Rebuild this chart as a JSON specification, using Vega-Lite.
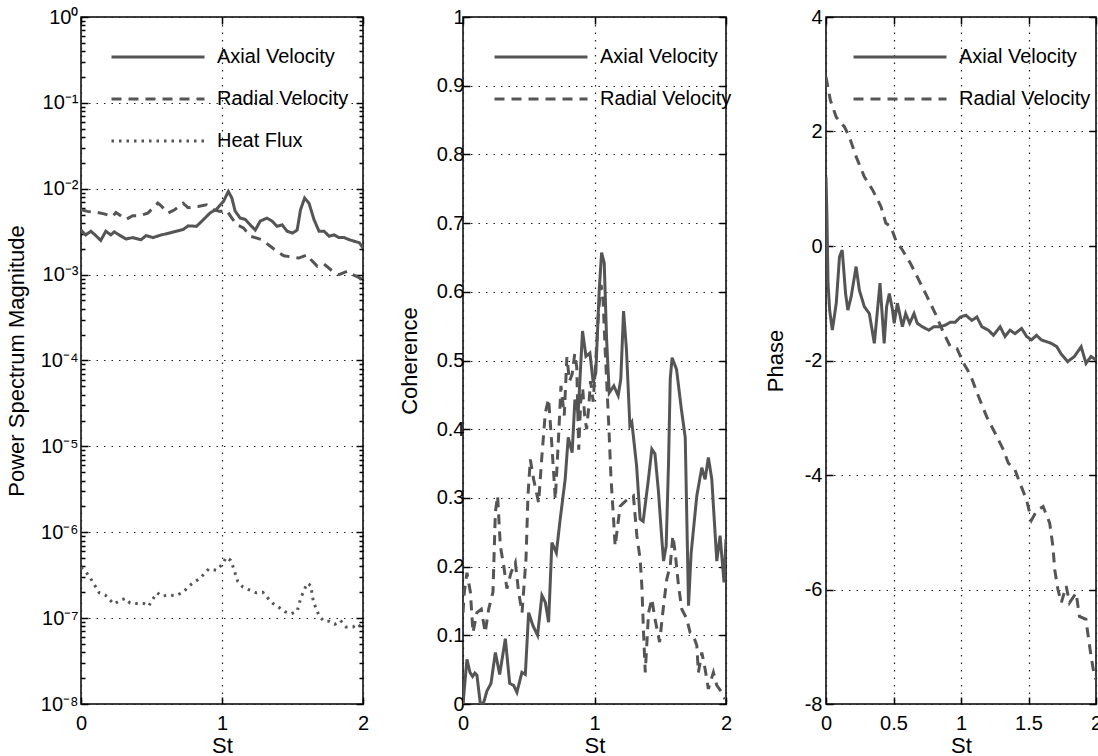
{
  "$schema": "https://vega.github.io/schema/vega-lite/v6.json",
  "padding": {"left": 4, "top": 6, "right": 0, "bottom": 0},
  "background": "white",
  "config": {
    "font": "Liberation Sans",
    "view": {"stroke": "#000", "strokeWidth": 1.5},
    "axis": {
      "domain": false, "labelFont": "Liberation Sans", "labelFontSize": 20, "labelColor": "#000",
      "titleFont": "Liberation Sans", "titleFontSize": 22, "titleFontWeight": "normal", "titleColor": "#000",
      "tickColor": "#000", "tickWidth": 1.5, "tickSize": -7, "gridColor": "#222", "gridDash": [1.5, 6], "gridWidth": 1.2,
      "labelFlush": false, "labelOverlap": false
    },
    "legend": {
      "orient": "none", "legendX": 67, "legendY": 30, "title": null, "padding": 0,
      "symbolType": "M-9.3,0H9.3", "symbolSize": 100, "symbolStrokeWidth": 3, "symbolStrokeColor": "#555",
      "symbolFillColor": "transparent", "labelFont": "Liberation Sans", "labelFontSize": 20, "labelColor": "#000",
      "labelOffset": 49, "rowPadding": 22
    }
  },
  "datasets": {
    "spectrum": [
      {"St":0,"value":0.0033,"series":"Axial Velocity"},{"St":0.033,"value":0.0029,"series":"Axial Velocity"},{"St":0.07,"value":0.0032,"series":"Axial Velocity"},{"St":0.105,"value":0.00285,"series":"Axial Velocity"},{"St":0.14,"value":0.0025,"series":"Axial Velocity"},{"St":0.176,"value":0.0032,"series":"Axial Velocity"},{"St":0.212,"value":0.0029,"series":"Axial Velocity"},{"St":0.236,"value":0.00315,"series":"Axial Velocity"},{"St":0.27,"value":0.0029,"series":"Axial Velocity"},{"St":0.32,"value":0.0026,"series":"Axial Velocity"},{"St":0.367,"value":0.0027,"series":"Axial Velocity"},{"St":0.426,"value":0.00255,"series":"Axial Velocity"},{"St":0.462,"value":0.00285,"series":"Axial Velocity"},{"St":0.51,"value":0.0027,"series":"Axial Velocity"},{"St":0.569,"value":0.0029,"series":"Axial Velocity"},{"St":0.629,"value":0.00305,"series":"Axial Velocity"},{"St":0.676,"value":0.0032,"series":"Axial Velocity"},{"St":0.724,"value":0.00335,"series":"Axial Velocity"},{"St":0.76,"value":0.0037,"series":"Axial Velocity"},{"St":0.819,"value":0.00365,"series":"Axial Velocity"},{"St":0.867,"value":0.00435,"series":"Axial Velocity"},{"St":0.914,"value":0.0052,"series":"Axial Velocity"},{"St":0.962,"value":0.0058,"series":"Axial Velocity"},{"St":1.01,"value":0.0071,"series":"Axial Velocity"},{"St":1.045,"value":0.0093,"series":"Axial Velocity"},{"St":1.07,"value":0.0078,"series":"Axial Velocity"},{"St":1.093,"value":0.0055,"series":"Axial Velocity"},{"St":1.129,"value":0.00455,"series":"Axial Velocity"},{"St":1.164,"value":0.0044,"series":"Axial Velocity"},{"St":1.2,"value":0.0038,"series":"Axial Velocity"},{"St":1.236,"value":0.0033,"series":"Axial Velocity"},{"St":1.271,"value":0.0042,"series":"Axial Velocity"},{"St":1.319,"value":0.00455,"series":"Axial Velocity"},{"St":1.355,"value":0.0042,"series":"Axial Velocity"},{"St":1.39,"value":0.00365,"series":"Axial Velocity"},{"St":1.426,"value":0.0038,"series":"Axial Velocity"},{"St":1.462,"value":0.0032,"series":"Axial Velocity"},{"St":1.5,"value":0.00305,"series":"Axial Velocity"},{"St":1.533,"value":0.0033,"series":"Axial Velocity"},{"St":1.557,"value":0.0057,"series":"Axial Velocity"},{"St":1.586,"value":0.0078,"series":"Axial Velocity"},{"St":1.617,"value":0.0068,"series":"Axial Velocity"},{"St":1.652,"value":0.0044,"series":"Axial Velocity"},{"St":1.688,"value":0.0032,"series":"Axial Velocity"},{"St":1.724,"value":0.0032,"series":"Axial Velocity"},{"St":1.76,"value":0.0028,"series":"Axial Velocity"},{"St":1.795,"value":0.0029,"series":"Axial Velocity"},{"St":1.83,"value":0.0027,"series":"Axial Velocity"},{"St":1.867,"value":0.0027,"series":"Axial Velocity"},{"St":1.902,"value":0.00255,"series":"Axial Velocity"},{"St":1.938,"value":0.00245,"series":"Axial Velocity"},{"St":1.974,"value":0.00235,"series":"Axial Velocity"},{"St":2.0,"value":0.00205,"series":"Axial Velocity"},
      {"St":0,"value":0.0057,"series":"Radial Velocity"},{"St":0.045,"value":0.00545,"series":"Radial Velocity"},{"St":0.117,"value":0.0053,"series":"Radial Velocity"},{"St":0.164,"value":0.0051,"series":"Radial Velocity"},{"St":0.224,"value":0.00475,"series":"Radial Velocity"},{"St":0.248,"value":0.0053,"series":"Radial Velocity"},{"St":0.319,"value":0.0044,"series":"Radial Velocity"},{"St":0.367,"value":0.00485,"series":"Radial Velocity"},{"St":0.414,"value":0.00485,"series":"Radial Velocity"},{"St":0.474,"value":0.0052,"series":"Radial Velocity"},{"St":0.545,"value":0.0068,"series":"Radial Velocity"},{"St":0.57,"value":0.0063,"series":"Radial Velocity"},{"St":0.617,"value":0.0052,"series":"Radial Velocity"},{"St":0.664,"value":0.0057,"series":"Radial Velocity"},{"St":0.724,"value":0.0068,"series":"Radial Velocity"},{"St":0.76,"value":0.006,"series":"Radial Velocity"},{"St":0.83,"value":0.0062,"series":"Radial Velocity"},{"St":0.89,"value":0.0065,"series":"Radial Velocity"},{"St":0.938,"value":0.0057,"series":"Radial Velocity"},{"St":0.986,"value":0.00545,"series":"Radial Velocity"},{"St":1.033,"value":0.0056,"series":"Radial Velocity"},{"St":1.07,"value":0.00456,"series":"Radial Velocity"},{"St":1.105,"value":0.0038,"series":"Radial Velocity"},{"St":1.152,"value":0.0035,"series":"Radial Velocity"},{"St":1.2,"value":0.0028,"series":"Radial Velocity"},{"St":1.236,"value":0.0027,"series":"Radial Velocity"},{"St":1.283,"value":0.00255,"series":"Radial Velocity"},{"St":1.343,"value":0.00214,"series":"Radial Velocity"},{"St":1.39,"value":0.00186,"series":"Radial Velocity"},{"St":1.438,"value":0.00166,"series":"Radial Velocity"},{"St":1.5,"value":0.0016,"series":"Radial Velocity"},{"St":1.545,"value":0.00156,"series":"Radial Velocity"},{"St":1.605,"value":0.0017,"series":"Radial Velocity"},{"St":1.63,"value":0.0015,"series":"Radial Velocity"},{"St":1.676,"value":0.00125,"series":"Radial Velocity"},{"St":1.724,"value":0.00133,"series":"Radial Velocity"},{"St":1.783,"value":0.0011,"series":"Radial Velocity"},{"St":1.83,"value":0.001,"series":"Radial Velocity"},{"St":1.89,"value":0.0011,"series":"Radial Velocity"},{"St":1.926,"value":0.001,"series":"Radial Velocity"},{"St":1.962,"value":0.00094,"series":"Radial Velocity"},{"St":2.0,"value":0.00087,"series":"Radial Velocity"},
      {"St":0,"value":3.9e-7,"series":"Heat Flux"},{"St":0.038,"value":3.4e-7,"series":"Heat Flux"},{"St":0.076,"value":2.76e-7,"series":"Heat Flux"},{"St":0.129,"value":1.97e-7,"series":"Heat Flux"},{"St":0.171,"value":1.86e-7,"series":"Heat Flux"},{"St":0.233,"value":1.46e-7,"series":"Heat Flux"},{"St":0.276,"value":1.6e-7,"series":"Heat Flux"},{"St":0.314,"value":1.7e-7,"series":"Heat Flux"},{"St":0.348,"value":1.5e-7,"series":"Heat Flux"},{"St":0.395,"value":1.48e-7,"series":"Heat Flux"},{"St":0.445,"value":1.48e-7,"series":"Heat Flux"},{"St":0.48,"value":1.38e-7,"series":"Heat Flux"},{"St":0.505,"value":1.63e-7,"series":"Heat Flux"},{"St":0.54,"value":1.97e-7,"series":"Heat Flux"},{"St":0.576,"value":1.8e-7,"series":"Heat Flux"},{"St":0.617,"value":1.86e-7,"series":"Heat Flux"},{"St":0.671,"value":1.83e-7,"series":"Heat Flux"},{"St":0.724,"value":2.0e-7,"series":"Heat Flux"},{"St":0.771,"value":2.4e-7,"series":"Heat Flux"},{"St":0.843,"value":2.9e-7,"series":"Heat Flux"},{"St":0.907,"value":3.75e-7,"series":"Heat Flux"},{"St":0.962,"value":3.6e-7,"series":"Heat Flux"},{"St":1.005,"value":4.3e-7,"series":"Heat Flux"},{"St":1.029,"value":5.1e-7,"series":"Heat Flux"},{"St":1.062,"value":4.7e-7,"series":"Heat Flux"},{"St":1.081,"value":3.85e-7,"series":"Heat Flux"},{"St":1.112,"value":2.67e-7,"series":"Heat Flux"},{"St":1.148,"value":2.3e-7,"series":"Heat Flux"},{"St":1.188,"value":2.15e-7,"series":"Heat Flux"},{"St":1.243,"value":1.97e-7,"series":"Heat Flux"},{"St":1.29,"value":2.0e-7,"series":"Heat Flux"},{"St":1.324,"value":1.72e-7,"series":"Heat Flux"},{"St":1.362,"value":1.48e-7,"series":"Heat Flux"},{"St":1.402,"value":1.34e-7,"series":"Heat Flux"},{"St":1.445,"value":1.19e-7,"series":"Heat Flux"},{"St":1.49,"value":1.12e-7,"series":"Heat Flux"},{"St":1.533,"value":1.2e-7,"series":"Heat Flux"},{"St":1.557,"value":1.68e-7,"series":"Heat Flux"},{"St":1.581,"value":2.1e-7,"series":"Heat Flux"},{"St":1.605,"value":2.55e-7,"series":"Heat Flux"},{"St":1.629,"value":2.4e-7,"series":"Heat Flux"},{"St":1.648,"value":1.56e-7,"series":"Heat Flux"},{"St":1.667,"value":1.3e-7,"series":"Heat Flux"},{"St":1.69,"value":1.05e-7,"series":"Heat Flux"},{"St":1.724,"value":9.2e-8,"series":"Heat Flux"},{"St":1.76,"value":9.2e-8,"series":"Heat Flux"},{"St":1.8,"value":8.5e-8,"series":"Heat Flux"},{"St":1.84,"value":9.4e-8,"series":"Heat Flux"},{"St":1.88,"value":7.9e-8,"series":"Heat Flux"},{"St":1.93,"value":7.9e-8,"series":"Heat Flux"},{"St":1.96,"value":8.6e-8,"series":"Heat Flux"},{"St":2.0,"value":7.4e-8,"series":"Heat Flux"}
    ],
    "coherence": [
      {"St":0,"value":0,"series":"Axial Velocity"},{"St":0.03,"value":0.065,"series":"Axial Velocity"},{"St":0.053,"value":0.046,"series":"Axial Velocity"},{"St":0.073,"value":0.04,"series":"Axial Velocity"},{"St":0.09,"value":0.045,"series":"Axial Velocity"},{"St":0.106,"value":0.042,"series":"Axial Velocity"},{"St":0.132,"value":0,"series":"Axial Velocity"},{"St":0.157,"value":0.002,"series":"Axial Velocity"},{"St":0.182,"value":0.019,"series":"Axial Velocity"},{"St":0.213,"value":0.03,"series":"Axial Velocity"},{"St":0.246,"value":0.075,"series":"Axial Velocity"},{"St":0.279,"value":0.043,"series":"Axial Velocity"},{"St":0.322,"value":0.095,"series":"Axial Velocity"},{"St":0.355,"value":0.03,"series":"Axial Velocity"},{"St":0.385,"value":0.027,"series":"Axial Velocity"},{"St":0.41,"value":0.017,"series":"Axial Velocity"},{"St":0.448,"value":0.046,"series":"Axial Velocity"},{"St":0.474,"value":0.043,"series":"Axial Velocity"},{"St":0.499,"value":0.133,"series":"Axial Velocity"},{"St":0.532,"value":0.114,"series":"Axial Velocity"},{"St":0.567,"value":0.1,"series":"Axial Velocity"},{"St":0.6,"value":0.158,"series":"Axial Velocity"},{"St":0.626,"value":0.148,"series":"Axial Velocity"},{"St":0.651,"value":0.119,"series":"Axial Velocity"},{"St":0.676,"value":0.235,"series":"Axial Velocity"},{"St":0.71,"value":0.22,"series":"Axial Velocity"},{"St":0.739,"value":0.269,"series":"Axial Velocity"},{"St":0.777,"value":0.327,"series":"Axial Velocity"},{"St":0.8,"value":0.388,"series":"Axial Velocity"},{"St":0.83,"value":0.366,"series":"Axial Velocity"},{"St":0.851,"value":0.443,"series":"Axial Velocity"},{"St":0.876,"value":0.424,"series":"Axial Velocity"},{"St":0.909,"value":0.543,"series":"Axial Velocity"},{"St":0.935,"value":0.506,"series":"Axial Velocity"},{"St":0.965,"value":0.511,"series":"Axial Velocity"},{"St":0.99,"value":0.468,"series":"Axial Velocity"},{"St":1.01,"value":0.482,"series":"Axial Velocity"},{"St":1.036,"value":0.603,"series":"Axial Velocity"},{"St":1.054,"value":0.657,"series":"Axial Velocity"},{"St":1.074,"value":0.642,"series":"Axial Velocity"},{"St":1.092,"value":0.531,"series":"Axial Velocity"},{"St":1.112,"value":0.453,"series":"Axial Velocity"},{"St":1.147,"value":0.463,"series":"Axial Velocity"},{"St":1.18,"value":0.449,"series":"Axial Velocity"},{"St":1.2,"value":0.473,"series":"Axial Velocity"},{"St":1.221,"value":0.572,"series":"Axial Velocity"},{"St":1.243,"value":0.516,"series":"Axial Velocity"},{"St":1.269,"value":0.405,"series":"Axial Velocity"},{"St":1.284,"value":0.41,"series":"Axial Velocity"},{"St":1.32,"value":0.347,"series":"Axial Velocity"},{"St":1.347,"value":0.269,"series":"Axial Velocity"},{"St":1.37,"value":0.266,"series":"Axial Velocity"},{"St":1.41,"value":0.327,"series":"Axial Velocity"},{"St":1.436,"value":0.371,"series":"Axial Velocity"},{"St":1.46,"value":0.364,"series":"Axial Velocity"},{"St":1.486,"value":0.31,"series":"Axial Velocity"},{"St":1.512,"value":0.24,"series":"Axial Velocity"},{"St":1.525,"value":0.208,"series":"Axial Velocity"},{"St":1.545,"value":0.23,"series":"Axial Velocity"},{"St":1.563,"value":0.351,"series":"Axial Velocity"},{"St":1.576,"value":0.473,"series":"Axial Velocity"},{"St":1.59,"value":0.504,"series":"Axial Velocity"},{"St":1.624,"value":0.487,"series":"Axial Velocity"},{"St":1.66,"value":0.43,"series":"Axial Velocity"},{"St":1.69,"value":0.388,"series":"Axial Velocity"},{"St":1.715,"value":0.143,"series":"Axial Velocity"},{"St":1.735,"value":0.22,"series":"Axial Velocity"},{"St":1.778,"value":0.303,"series":"Axial Velocity"},{"St":1.816,"value":0.344,"series":"Axial Velocity"},{"St":1.841,"value":0.327,"series":"Axial Velocity"},{"St":1.866,"value":0.359,"series":"Axial Velocity"},{"St":1.892,"value":0.327,"series":"Axial Velocity"},{"St":1.93,"value":0.208,"series":"Axial Velocity"},{"St":1.955,"value":0.245,"series":"Axial Velocity"},{"St":1.985,"value":0.177,"series":"Axial Velocity"},{"St":2.0,"value":0.24,"series":"Axial Velocity"},
      {"St":0,"value":0.133,"series":"Radial Velocity"},{"St":0.01,"value":0.163,"series":"Radial Velocity"},{"St":0.03,"value":0.191,"series":"Radial Velocity"},{"St":0.056,"value":0.163,"series":"Radial Velocity"},{"St":0.076,"value":0.104,"series":"Radial Velocity"},{"St":0.106,"value":0.133,"series":"Radial Velocity"},{"St":0.139,"value":0.138,"series":"Radial Velocity"},{"St":0.169,"value":0.104,"series":"Radial Velocity"},{"St":0.195,"value":0.138,"series":"Radial Velocity"},{"St":0.228,"value":0.163,"series":"Radial Velocity"},{"St":0.246,"value":0.279,"series":"Radial Velocity"},{"St":0.263,"value":0.303,"series":"Radial Velocity"},{"St":0.284,"value":0.23,"series":"Radial Velocity"},{"St":0.309,"value":0.202,"series":"Radial Velocity"},{"St":0.334,"value":0.168,"series":"Radial Velocity"},{"St":0.365,"value":0.191,"series":"Radial Velocity"},{"St":0.398,"value":0.206,"series":"Radial Velocity"},{"St":0.423,"value":0.163,"series":"Radial Velocity"},{"St":0.449,"value":0.133,"series":"Radial Velocity"},{"St":0.479,"value":0.211,"series":"Radial Velocity"},{"St":0.494,"value":0.303,"series":"Radial Velocity"},{"St":0.512,"value":0.356,"series":"Radial Velocity"},{"St":0.537,"value":0.327,"series":"Radial Velocity"},{"St":0.575,"value":0.293,"series":"Radial Velocity"},{"St":0.6,"value":0.361,"series":"Radial Velocity"},{"St":0.626,"value":0.424,"series":"Radial Velocity"},{"St":0.651,"value":0.444,"series":"Radial Velocity"},{"St":0.676,"value":0.376,"series":"Radial Velocity"},{"St":0.702,"value":0.298,"series":"Radial Velocity"},{"St":0.727,"value":0.39,"series":"Radial Velocity"},{"St":0.745,"value":0.463,"series":"Radial Velocity"},{"St":0.77,"value":0.42,"series":"Radial Velocity"},{"St":0.79,"value":0.505,"series":"Radial Velocity"},{"St":0.81,"value":0.47,"series":"Radial Velocity"},{"St":0.83,"value":0.48,"series":"Radial Velocity"},{"St":0.85,"value":0.51,"series":"Radial Velocity"},{"St":0.865,"value":0.49,"series":"Radial Velocity"},{"St":0.88,"value":0.37,"series":"Radial Velocity"},{"St":0.895,"value":0.44,"series":"Radial Velocity"},{"St":0.91,"value":0.46,"series":"Radial Velocity"},{"St":0.925,"value":0.42,"series":"Radial Velocity"},{"St":0.94,"value":0.4,"series":"Radial Velocity"},{"St":0.955,"value":0.43,"series":"Radial Velocity"},{"St":0.97,"value":0.47,"series":"Radial Velocity"},{"St":0.99,"value":0.44,"series":"Radial Velocity"},{"St":1.01,"value":0.5,"series":"Radial Velocity"},{"St":1.03,"value":0.57,"series":"Radial Velocity"},{"St":1.05,"value":0.61,"series":"Radial Velocity"},{"St":1.065,"value":0.59,"series":"Radial Velocity"},{"St":1.08,"value":0.52,"series":"Radial Velocity"},{"St":1.1,"value":0.44,"series":"Radial Velocity"},{"St":1.11,"value":0.4,"series":"Radial Velocity"},{"St":1.125,"value":0.33,"series":"Radial Velocity"},{"St":1.145,"value":0.269,"series":"Radial Velocity"},{"St":1.157,"value":0.23,"series":"Radial Velocity"},{"St":1.195,"value":0.288,"series":"Radial Velocity"},{"St":1.233,"value":0.295,"series":"Radial Velocity"},{"St":1.271,"value":0.3,"series":"Radial Velocity"},{"St":1.296,"value":0.303,"series":"Radial Velocity"},{"St":1.322,"value":0.245,"series":"Radial Velocity"},{"St":1.347,"value":0.211,"series":"Radial Velocity"},{"St":1.36,"value":0.172,"series":"Radial Velocity"},{"St":1.373,"value":0.104,"series":"Radial Velocity"},{"St":1.386,"value":0.046,"series":"Radial Velocity"},{"St":1.411,"value":0.133,"series":"Radial Velocity"},{"St":1.436,"value":0.153,"series":"Radial Velocity"},{"St":1.46,"value":0.124,"series":"Radial Velocity"},{"St":1.495,"value":0.09,"series":"Radial Velocity"},{"St":1.525,"value":0.143,"series":"Radial Velocity"},{"St":1.55,"value":0.182,"series":"Radial Velocity"},{"St":1.576,"value":0.202,"series":"Radial Velocity"},{"St":1.596,"value":0.245,"series":"Radial Velocity"},{"St":1.613,"value":0.221,"series":"Radial Velocity"},{"St":1.639,"value":0.172,"series":"Radial Velocity"},{"St":1.664,"value":0.138,"series":"Radial Velocity"},{"St":1.702,"value":0.124,"series":"Radial Velocity"},{"St":1.727,"value":0.104,"series":"Radial Velocity"},{"St":1.753,"value":0.099,"series":"Radial Velocity"},{"St":1.778,"value":0.085,"series":"Radial Velocity"},{"St":1.79,"value":0.046,"series":"Radial Velocity"},{"St":1.816,"value":0.075,"series":"Radial Velocity"},{"St":1.841,"value":0.051,"series":"Radial Velocity"},{"St":1.866,"value":0.022,"series":"Radial Velocity"},{"St":1.904,"value":0.046,"series":"Radial Velocity"},{"St":1.93,"value":0.027,"series":"Radial Velocity"},{"St":1.968,"value":0.017,"series":"Radial Velocity"},{"St":1.993,"value":0.007,"series":"Radial Velocity"}
    ],
    "phase": [
      {"St":0,"value":1.21,"series":"Axial Velocity"},{"St":0.007,"value":0.51,"series":"Axial Velocity"},{"St":0.015,"value":-0.65,"series":"Axial Velocity"},{"St":0.027,"value":-1.12,"series":"Axial Velocity"},{"St":0.047,"value":-1.47,"series":"Axial Velocity"},{"St":0.076,"value":-1.0,"series":"Axial Velocity"},{"St":0.1,"value":-0.19,"series":"Axial Velocity"},{"St":0.12,"value":-0.07,"series":"Axial Velocity"},{"St":0.145,"value":-0.83,"series":"Axial Velocity"},{"St":0.162,"value":-1.12,"series":"Axial Velocity"},{"St":0.186,"value":-0.89,"series":"Axial Velocity"},{"St":0.223,"value":-0.36,"series":"Axial Velocity"},{"St":0.247,"value":-0.77,"series":"Axial Velocity"},{"St":0.284,"value":-1.06,"series":"Axial Velocity"},{"St":0.321,"value":-1.18,"series":"Axial Velocity"},{"St":0.358,"value":-1.7,"series":"Axial Velocity"},{"St":0.4,"value":-0.65,"series":"Axial Velocity"},{"St":0.431,"value":-1.7,"series":"Axial Velocity"},{"St":0.449,"value":-1.06,"series":"Axial Velocity"},{"St":0.469,"value":-0.83,"series":"Axial Velocity"},{"St":0.493,"value":-1.12,"series":"Axial Velocity"},{"St":0.505,"value":-1.35,"series":"Axial Velocity"},{"St":0.529,"value":-1.0,"series":"Axial Velocity"},{"St":0.566,"value":-1.41,"series":"Axial Velocity"},{"St":0.59,"value":-1.18,"series":"Axial Velocity"},{"St":0.62,"value":-1.35,"series":"Axial Velocity"},{"St":0.652,"value":-1.18,"series":"Axial Velocity"},{"St":0.676,"value":-1.35,"series":"Axial Velocity"},{"St":0.713,"value":-1.41,"series":"Axial Velocity"},{"St":0.762,"value":-1.47,"series":"Axial Velocity"},{"St":0.799,"value":-1.41,"series":"Axial Velocity"},{"St":0.848,"value":-1.41,"series":"Axial Velocity"},{"St":0.885,"value":-1.38,"series":"Axial Velocity"},{"St":0.922,"value":-1.33,"series":"Axial Velocity"},{"St":0.958,"value":-1.33,"series":"Axial Velocity"},{"St":0.995,"value":-1.24,"series":"Axial Velocity"},{"St":1.037,"value":-1.21,"series":"Axial Velocity"},{"St":1.08,"value":-1.3,"series":"Axial Velocity"},{"St":1.118,"value":-1.24,"series":"Axial Velocity"},{"St":1.154,"value":-1.41,"series":"Axial Velocity"},{"St":1.203,"value":-1.47,"series":"Axial Velocity"},{"St":1.24,"value":-1.56,"series":"Axial Velocity"},{"St":1.29,"value":-1.41,"series":"Axial Velocity"},{"St":1.326,"value":-1.58,"series":"Axial Velocity"},{"St":1.363,"value":-1.47,"series":"Axial Velocity"},{"St":1.4,"value":-1.53,"series":"Axial Velocity"},{"St":1.449,"value":-1.44,"series":"Axial Velocity"},{"St":1.486,"value":-1.58,"series":"Axial Velocity"},{"St":1.522,"value":-1.64,"series":"Axial Velocity"},{"St":1.559,"value":-1.56,"series":"Axial Velocity"},{"St":1.595,"value":-1.64,"series":"Axial Velocity"},{"St":1.632,"value":-1.67,"series":"Axial Velocity"},{"St":1.669,"value":-1.7,"series":"Axial Velocity"},{"St":1.71,"value":-1.76,"series":"Axial Velocity"},{"St":1.74,"value":-1.88,"series":"Axial Velocity"},{"St":1.79,"value":-2.02,"series":"Axial Velocity"},{"St":1.84,"value":-1.93,"series":"Axial Velocity"},{"St":1.89,"value":-1.76,"series":"Axial Velocity"},{"St":1.926,"value":-2.05,"series":"Axial Velocity"},{"St":1.963,"value":-1.93,"series":"Axial Velocity"},{"St":2.0,"value":-1.99,"series":"Axial Velocity"},
      {"St":0,"value":2.95,"series":"Radial Velocity"},{"St":0.032,"value":2.55,"series":"Radial Velocity"},{"St":0.076,"value":2.25,"series":"Radial Velocity"},{"St":0.137,"value":2.08,"series":"Radial Velocity"},{"St":0.174,"value":1.9,"series":"Radial Velocity"},{"St":0.223,"value":1.56,"series":"Radial Velocity"},{"St":0.284,"value":1.21,"series":"Radial Velocity"},{"St":0.345,"value":0.98,"series":"Radial Velocity"},{"St":0.407,"value":0.69,"series":"Radial Velocity"},{"St":0.443,"value":0.4,"series":"Radial Velocity"},{"St":0.48,"value":0.34,"series":"Radial Velocity"},{"St":0.517,"value":0.1,"series":"Radial Velocity"},{"St":0.566,"value":-0.07,"series":"Radial Velocity"},{"St":0.627,"value":-0.31,"series":"Radial Velocity"},{"St":0.689,"value":-0.6,"series":"Radial Velocity"},{"St":0.75,"value":-0.89,"series":"Radial Velocity"},{"St":0.81,"value":-1.18,"series":"Radial Velocity"},{"St":0.873,"value":-1.53,"series":"Radial Velocity"},{"St":0.922,"value":-1.76,"series":"Radial Velocity"},{"St":0.97,"value":-1.79,"series":"Radial Velocity"},{"St":1.02,"value":-2.05,"series":"Radial Velocity"},{"St":1.069,"value":-2.25,"series":"Radial Velocity"},{"St":1.13,"value":-2.63,"series":"Radial Velocity"},{"St":1.19,"value":-2.98,"series":"Radial Velocity"},{"St":1.253,"value":-3.27,"series":"Radial Velocity"},{"St":1.314,"value":-3.56,"series":"Radial Velocity"},{"St":1.35,"value":-3.79,"series":"Radial Velocity"},{"St":1.4,"value":-3.91,"series":"Radial Velocity"},{"St":1.436,"value":-4.14,"series":"Radial Velocity"},{"St":1.485,"value":-4.43,"series":"Radial Velocity"},{"St":1.522,"value":-4.79,"series":"Radial Velocity"},{"St":1.559,"value":-4.63,"series":"Radial Velocity"},{"St":1.608,"value":-4.55,"series":"Radial Velocity"},{"St":1.657,"value":-4.84,"series":"Radial Velocity"},{"St":1.681,"value":-5.25,"series":"Radial Velocity"},{"St":1.694,"value":-5.65,"series":"Radial Velocity"},{"St":1.718,"value":-6.0,"series":"Radial Velocity"},{"St":1.743,"value":-6.23,"series":"Radial Velocity"},{"St":1.779,"value":-5.94,"series":"Radial Velocity"},{"St":1.804,"value":-6.23,"series":"Radial Velocity"},{"St":1.853,"value":-6.06,"series":"Radial Velocity"},{"St":1.877,"value":-6.47,"series":"Radial Velocity"},{"St":1.926,"value":-6.52,"series":"Radial Velocity"},{"St":1.939,"value":-6.76,"series":"Radial Velocity"},{"St":1.963,"value":-7.16,"series":"Radial Velocity"},{"St":1.988,"value":-7.51,"series":"Radial Velocity"},{"St":2.0,"value":-7.57,"series":"Radial Velocity"}
    ]
  },
  "bounds": "flush",
  "spacing": 100,
  "resolve": {"scale": {"strokeDash": "independent"}, "legend": {"strokeDash": "independent"}},
  "hconcat": [
    {
      "width": 282, "height": 687,
      "data": {"name": "spectrum"},
      "resolve": {"axis": {"x": "independent", "y": "independent"}},
      "layer": [
        {
          "mark": {"type": "line", "strokeWidth": 3, "color": "#555", "clip": true},
          "encoding": {
            "x": {"field": "St", "type": "quantitative", "scale": {"domain": [0, 2], "nice": false},
                  "axis": {"values": [0, 1, 2], "title": "St", "labelExpr": "'' + datum.value", "labelPadding": 16, "titlePadding": 2}},
            "y": {"field": "value", "type": "quantitative", "scale": {"type": "log", "domain": [1e-8, 1], "nice": false},
                  "axis": {"title": "Power Spectrum Magnitude", "labelPadding": 10, "titlePadding": 12,
                           "values": [1e-8,2e-8,3e-8,4e-8,5e-8,6e-8,7e-8,8e-8,9e-8,1e-7,2e-7,3e-7,4e-7,5e-7,6e-7,7e-7,8e-7,9e-7,1e-6,2e-6,3e-6,4e-6,5e-6,6e-6,7e-6,8e-6,9e-6,1e-5,2e-5,3e-5,4e-5,5e-5,6e-5,7e-5,8e-5,9e-5,1e-4,2e-4,3e-4,4e-4,5e-4,6e-4,7e-4,8e-4,9e-4,0.001,0.002,0.003,0.004,0.005,0.006,0.007,0.008,0.009,0.01,0.02,0.03,0.04,0.05,0.06,0.07,0.08,0.09,0.1,0.2,0.3,0.4,0.5,0.6,0.7,0.8,0.9,1],
                           "labelExpr": "abs(log(datum.value)/LN10 - round(log(datum.value)/LN10)) < 0.001 ? '10' + ['⁰','⁻¹','⁻²','⁻³','⁻⁴','⁻⁵','⁻⁶','⁻⁷','⁻⁸'][-round(log(datum.value)/LN10)] : ''",
                           "tickSize": {"condition": {"test": "abs(log(datum.value)/LN10 - round(log(datum.value)/LN10)) < 0.001", "value": -7}, "value": -4},
                           "gridOpacity": {"condition": {"test": "abs(log(datum.value)/LN10 - round(log(datum.value)/LN10)) < 0.001", "value": 1}, "value": 0}}},
            "strokeDash": {"field": "series", "type": "nominal",
                           "scale": {"domain": ["Axial Velocity", "Radial Velocity", "Heat Flux"], "range": [[1, 0], [10, 7], [2.5, 5]]},
                           "legend": {"legendX": 67, "legendY": 30}}
          }
        },
        {
          "mark": {"type": "line", "opacity": 0},
          "encoding": {
            "x": {"field": "St", "type": "quantitative", "axis": {"orient": "top", "values": [0, 1, 2], "labels": false, "grid": false, "title": null}},
            "y": {"field": "value", "type": "quantitative",
                  "axis": {"orient": "right", "labels": false, "grid": false, "title": null,
                           "values": [1e-8,2e-8,3e-8,4e-8,5e-8,6e-8,7e-8,8e-8,9e-8,1e-7,2e-7,3e-7,4e-7,5e-7,6e-7,7e-7,8e-7,9e-7,1e-6,2e-6,3e-6,4e-6,5e-6,6e-6,7e-6,8e-6,9e-6,1e-5,2e-5,3e-5,4e-5,5e-5,6e-5,7e-5,8e-5,9e-5,1e-4,2e-4,3e-4,4e-4,5e-4,6e-4,7e-4,8e-4,9e-4,0.001,0.002,0.003,0.004,0.005,0.006,0.007,0.008,0.009,0.01,0.02,0.03,0.04,0.05,0.06,0.07,0.08,0.09,0.1,0.2,0.3,0.4,0.5,0.6,0.7,0.8,0.9,1],
                           "tickSize": {"condition": {"test": "abs(log(datum.value)/LN10 - round(log(datum.value)/LN10)) < 0.001", "value": -7}, "value": -4}}},
            "detail": {"field": "series"}
          }
        }
      ]
    },
    {
      "width": 263, "height": 687,
      "data": {"name": "coherence"},
      "resolve": {"axis": {"x": "independent", "y": "independent"}},
      "layer": [
        {
          "mark": {"type": "line", "strokeWidth": 3, "color": "#555", "clip": true},
          "encoding": {
            "x": {"field": "St", "type": "quantitative", "scale": {"domain": [0, 2], "nice": false},
                  "axis": {"values": [0, 1, 2], "title": "St", "labelExpr": "'' + datum.value", "labelPadding": 16, "titlePadding": 2}},
            "y": {"field": "value", "type": "quantitative", "scale": {"domain": [0, 1], "nice": false},
                  "axis": {"title": "Coherence", "values": [0, 0.1, 0.2, 0.3, 0.4, 0.5, 0.6, 0.7, 0.8, 0.9, 1], "labelExpr": "'' + datum.value", "labelPadding": 6, "titlePadding": 15}},
            "strokeDash": {"field": "series", "type": "nominal",
                           "scale": {"domain": ["Axial Velocity", "Radial Velocity"], "range": [[1, 0], [10, 7]]},
                           "legend": {"legendX": 68, "legendY": 30}}
          }
        },
        {
          "mark": {"type": "line", "opacity": 0},
          "encoding": {
            "x": {"field": "St", "type": "quantitative", "axis": {"orient": "top", "values": [0, 1, 2], "labels": false, "grid": false, "title": null}},
            "y": {"field": "value", "type": "quantitative", "axis": {"orient": "right", "values": [0, 0.1, 0.2, 0.3, 0.4, 0.5, 0.6, 0.7, 0.8, 0.9, 1], "labels": false, "grid": false, "title": null}},
            "detail": {"field": "series"}
          }
        }
      ]
    },
    {
      "width": 270, "height": 687,
      "data": {"name": "phase"},
      "resolve": {"axis": {"x": "independent", "y": "independent"}},
      "layer": [
        {
          "mark": {"type": "line", "strokeWidth": 3, "color": "#555", "clip": true},
          "encoding": {
            "x": {"field": "St", "type": "quantitative", "scale": {"domain": [0, 2], "nice": false},
                  "axis": {"values": [0, 0.5, 1, 1.5, 2], "title": "St", "labelExpr": "'' + datum.value", "labelPadding": 16, "titlePadding": 2}},
            "y": {"field": "value", "type": "quantitative", "scale": {"domain": [-8, 4], "nice": false},
                  "axis": {"title": "Phase", "values": [-8, -6, -4, -2, 0, 2, 4], "labelExpr": "'' + datum.value", "labelPadding": 11, "titlePadding": 17}},
            "strokeDash": {"field": "series", "type": "nominal",
                           "scale": {"domain": ["Axial Velocity", "Radial Velocity"], "range": [[1, 0], [10, 7]]},
                           "legend": {"legendX": 64, "legendY": 30}}
          }
        },
        {
          "mark": {"type": "line", "opacity": 0},
          "encoding": {
            "x": {"field": "St", "type": "quantitative", "axis": {"orient": "top", "values": [0, 0.5, 1, 1.5, 2], "labels": false, "grid": false, "title": null}},
            "y": {"field": "value", "type": "quantitative", "axis": {"orient": "right", "values": [-8, -6, -4, -2, 0, 2, 4], "labels": false, "grid": false, "title": null}},
            "detail": {"field": "series"}
          }
        }
      ]
    }
  ]
}
